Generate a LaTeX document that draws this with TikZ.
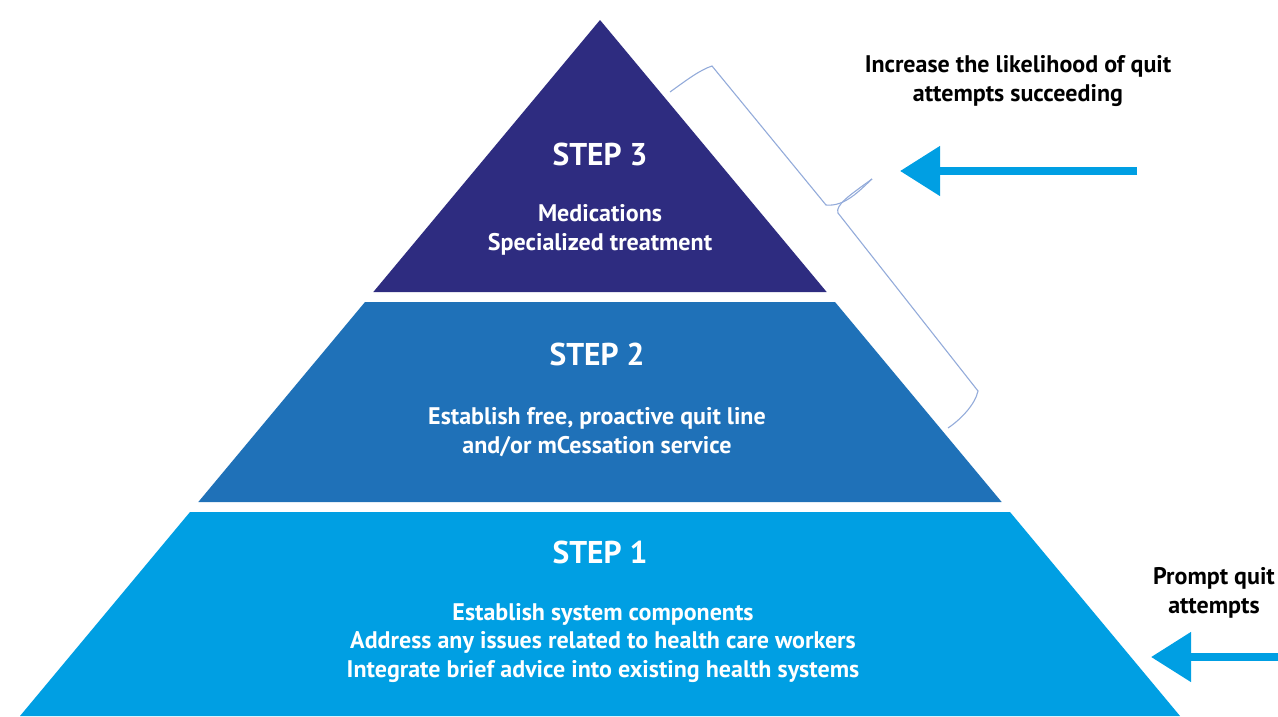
\documentclass[tikz,border=0pt]{standalone}
\usepackage{fontspec}
\setmainfont{PT Sans}
\usetikzlibrary{arrows.meta}
\definecolor{stepA}{HTML}{2E2C80}
\definecolor{stepB}{HTML}{1F71B8}
\definecolor{stepC}{HTML}{009FE3}
\definecolor{bracec}{HTML}{93ABDA}
\begin{document}
\begin{tikzpicture}[x=1pt,y=-1pt,
  title/.style={text=white,font=\bfseries\fontsize{31.5}{38}\selectfont,inner sep=0pt},
  body/.style={text=white,font=\bfseries\fontsize{24}{29}\selectfont,align=center,inner sep=0pt},
  note/.style={text=black,font=\bfseries\fontsize{24}{29.5}\selectfont,align=center,inner sep=0pt},
  bigarrow/.style={stepC,line width=8pt,-{Triangle[length=40pt,width=48pt]}},
  bracestyle/.style={bracec,line width=1.1pt}]
\useasboundingbox (0,0) rectangle (1278,716);
% pyramid
\fill[stepA] (600,20) -- (826.7,292) -- (373.3,292) -- cycle;
\fill[stepB] (365,302) -- (835,302) -- (1001.7,502) -- (198.3,502) -- cycle;
\fill[stepC] (190,512) -- (1010,512) -- (1180,716) -- (20,716) -- cycle;
% texts
\node[title] (t3) at (600,154) {STEP 3};
\node[body] (b3) at (600,230) {Medications\\Specialized treatment};
\node[title] (t2) at (597,354) {STEP 2};
\node[body] (b2) at (597,432) {Establish free, proactive quit line\\and/or mCessation service};
\node[title] (t1) at (600,552) {STEP 1};
\node[body] (b1) at (603,643) {Establish system components\\Address any issues related to health care workers\\Integrate brief advice into existing health systems};
\node[note] (n1) at (1018,81) {Increase the likelihood of quit\\attempts succeeding};
\node[note] (n2) at (1214,593) {Prompt quit\\attempts};
% arrows
\coordinate (a1s) at (1137,171);
\coordinate (a1e) at (900,171);
\coordinate (a2s) at (1278,657);
\coordinate (a2e) at (1151,657);
\draw[bigarrow] (a1s) -- (a1e);
\draw[bigarrow] (a2s) -- (a2e);
% brace
\draw[bracestyle] (670,92) .. controls (688,79) and (700,70) .. (712,66) -- (826,205) .. controls (845,207) and (860,190) .. (872,179);
\draw[bracestyle] (872,179) .. controls (850,195) and (835,205) .. (838,213) -- (978,391) .. controls (975,405) and (960,420) .. (948,428);
\end{tikzpicture}
\end{document}
